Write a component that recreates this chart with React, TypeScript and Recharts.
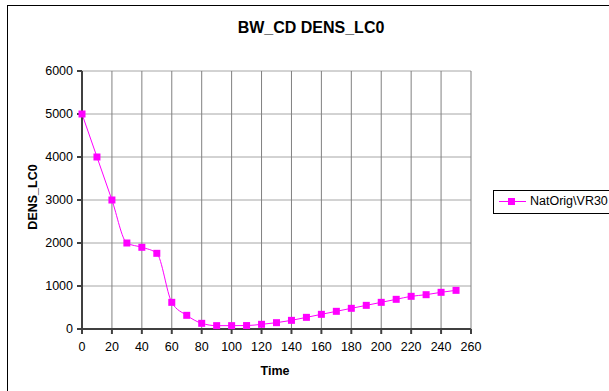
import { LineChart, Line, XAxis, YAxis, CartesianGrid } from "recharts";

const times = [0, 10, 20, 30, 40, 50, 60, 70, 80, 90, 100, 110, 120, 130, 140, 150, 160, 170, 180, 190, 200, 210, 220, 230, 240, 250];
const densLc0 = [5000, 4000, 3000, 2000, 1900, 1760, 620, 318, 132, 78, 78, 80, 109, 147, 201, 271, 341, 411, 481, 550, 620, 690, 760, 798, 853, 899];
const xTicks = [0, 20, 40, 60, 80, 100, 120, 140, 160, 180, 200, 220, 240, 260];
const yTicks = [0, 1000, 2000, 3000, 4000, 5000, 6000];

const SERIES_NAME = "NatOrig\\VR30";
const MAGENTA = "#ff00ff";
const FONT = "'Liberation Sans', Arial, sans-serif";

const data = times.map((t, i) => ({ time: t, value: densLc0[i] }));

// square marker like the Excel one
const SquareDot = (props: any) => {
  const { cx, cy, index } = props;
  if (cx == null || cy == null) return null;
  return <rect key={index} x={cx - 3.5} y={cy - 3.5} width={7} height={7} fill={MAGENTA} />;
};

export default function App() {
  const tick = { fill: "#000", fontSize: 12.5, fontFamily: FONT };
  return (
    <div style={{ position: "absolute", left: 0, top: 0, width: 609, height: 391, overflow: "hidden", background: "#fff", fontFamily: FONT }}>
      {/* outer chart frame, runs off the picture on right/bottom */}
      <div style={{ position: "absolute", left: 7, top: 5, width: 800, height: 600, border: "1px solid #000" }} />

      <div style={{ position: "absolute", left: 311, top: 19, transform: "translateX(-50%)", fontSize: 16, fontWeight: "bold", whiteSpace: "nowrap" }}>
        BW_CD DENS_LC0
      </div>

      <div style={{ position: "absolute", left: 0, top: 0 }}>
        <LineChart width={609} height={391} data={data} margin={{ top: 71, right: 138, bottom: 32, left: 0 }}>
          <CartesianGrid vertical={false} stroke="#a6a6a6" strokeWidth={1} />
          <CartesianGrid horizontal={false} stroke="#808080" strokeWidth={1} />
          <XAxis
            dataKey="time"
            type="number"
            domain={[0, 260]}
            ticks={xTicks}
            height={30}
            interval={0}
            tick={tick}
            tickSize={5}
            tickMargin={8}
            stroke="#404040"
            strokeWidth={2}
          />
          <YAxis
            type="number"
            domain={[0, 6000]}
            ticks={yTicks}
            width={82}
            interval={0}
            tick={tick}
            tickSize={5}
            tickMargin={4}
            stroke="#404040"
            strokeWidth={2}
          />
          <Line
            dataKey="value"
            type="monotone"
            stroke={MAGENTA}
            strokeWidth={1}
            dot={<SquareDot />}
            activeDot={false}
            isAnimationActive={false}
          />
        </LineChart>
      </div>

      <div style={{ position: "absolute", left: 33, top: 197, transform: "translate(-50%, -50%) rotate(-90deg)", fontSize: 12.5, fontWeight: "bold", whiteSpace: "nowrap" }}>
        DENS_LC0
      </div>
      <div style={{ position: "absolute", left: 275, top: 364, transform: "translateX(-50%)", fontSize: 12.5, fontWeight: "bold" }}>
        Time
      </div>

      {/* legend */}
      <div style={{ position: "absolute", left: 493, top: 190, width: 200, height: 22, border: "1px solid #000" }}>
        <svg width={30} height={22} style={{ position: "absolute", left: 5, top: 0 }}>
          <line x1={0} y1={10.5} x2={27} y2={10.5} stroke={MAGENTA} strokeWidth={1} />
          <rect x={9} y={7} width={7} height={7} fill={MAGENTA} />
        </svg>
        <div style={{ position: "absolute", left: 36, top: 3, fontSize: 12.5, whiteSpace: "nowrap" }}>{SERIES_NAME}</div>
      </div>
    </div>
  );
}
